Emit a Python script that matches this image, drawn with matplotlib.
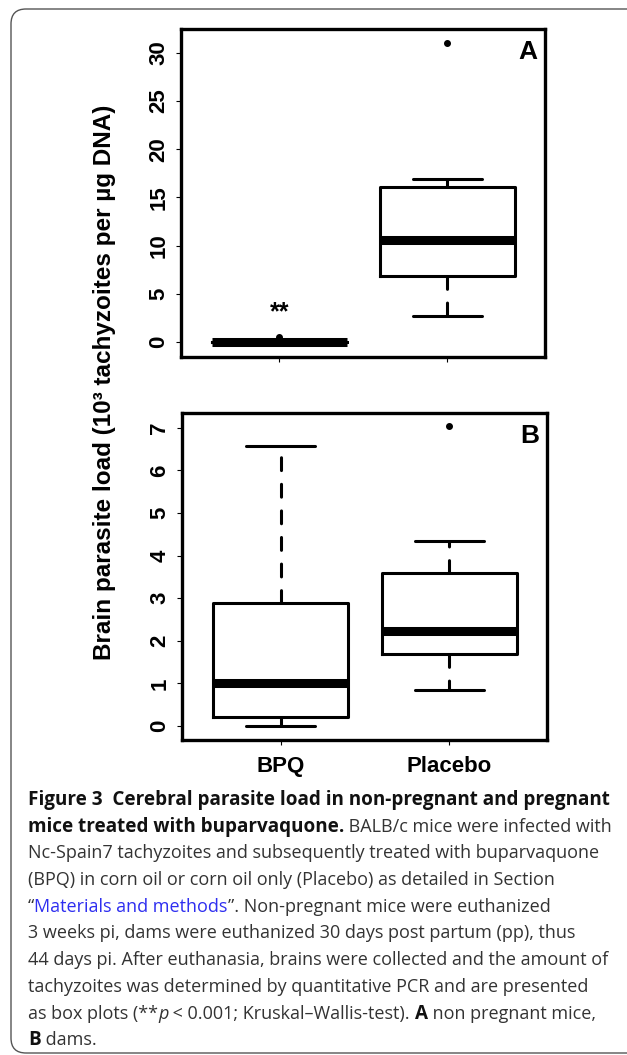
import matplotlib
matplotlib.use("Agg")
import matplotlib.pyplot as plt
from matplotlib.patches import FancyBboxPatch
from matplotlib.transforms import IdentityTransform

W, H = 627, 1055

groups = ["BPQ", "Placebo"]

# panel A: non pregnant mice (10^3 tachyzoites per ug DNA)
a_whislo = [0.0, 2.7]
a_q1 = [0.0, 6.8]
a_med = [0.0, 10.6]
a_q3 = [0.0, 16.1]
a_whishi = [0.0, 16.9]
a_fliers = [[0.5], [31.0]]

# panel B: dams
b_whislo = [0.0, 0.85]
b_q1 = [0.21, 1.68]
b_med = [1.0, 2.22]
b_q3 = [2.88, 3.6]
b_whishi = [6.57, 4.35]
b_fliers = [[], [7.05]]

a_ticks = [0, 5, 10, 15, 20, 25, 30]
b_ticks = [0, 1, 2, 3, 4, 5, 6, 7]

plt.rcParams['font.family'] = ['Liberation Sans', 'DejaVu Sans']

fig = plt.figure(figsize=(W / 100, H / 100), dpi=100)


def px_axes(l, t, r, b):
    return fig.add_axes([l / W, 1 - b / H, (r - l) / W, (b - t) / H])


def make_stats(lo, q1, med, q3, hi, fl):
    out = []
    for i in range(len(groups)):
        out.append(dict(whislo=lo[i], q1=q1[i], med=med[i], q3=q3[i],
                        whishi=hi[i], fliers=fl[i], label=groups[i]))
    return out


lw = 2.2
def draw_panel(ax, stats, ylim, ticks, letter, show_xlabels):
    ax.bxp(stats, positions=[1, 2], widths=0.8, capwidths=0.41,
           boxprops=dict(color='black', linewidth=lw),
           medianprops=dict(color='black', linewidth=6.5, solid_capstyle='butt'),
           whiskerprops=dict(color='black', linewidth=lw, linestyle=(0, (4.2, 4.5)),
                             dash_capstyle='round'),
           capprops=dict(color='black', linewidth=lw, solid_capstyle='round'),
           flierprops=dict(marker='o', markersize=4, markerfacecolor='black',
                           markeredgecolor='black'))
    ax.set_xlim(0.415, 2.58)
    ax.set_ylim(*ylim)
    ax.set_yticks(ticks)
    ax.set_yticklabels([str(t) for t in ticks], rotation=90, va='center',
                       fontsize=16, fontweight='bold')
    ax.set_xticks([1, 2])
    if show_xlabels:
        ax.set_xticklabels(groups, fontsize=16, fontweight='bold')
    else:
        ax.set_xticklabels(['', ''])
    ax.tick_params(axis='y', length=3.5, width=0.8, pad=5)
    ax.tick_params(axis='x', length=3.5, width=0.8, pad=8)
    for s in ax.spines.values():
        s.set_linewidth(2.4)
    ax.text(0.952, 0.93, letter, transform=ax.transAxes, ha='center', va='center',
            fontsize=19, fontweight='bold')


axA = px_axes(181, 29, 545, 357)
draw_panel(axA, make_stats(a_whislo, a_q1, a_med, a_q3, a_whishi, a_fliers),
           (-1.56, 32.46), a_ticks, 'A', False)
axA.text(1, 3.1, '**', ha='center', va='center', fontsize=18, fontweight='bold')

axB = px_axes(182, 413, 547, 740)
draw_panel(axB, make_stats(b_whislo, b_q1, b_med, b_q3, b_whishi, b_fliers),
           (-0.33, 7.35), b_ticks, 'B', True)

fig.text(105 / W, 1 - 382 / H,
         'Brain parasite load (10\u00b3 tachyzoites per \u00b5g DNA)',
         rotation=90, ha='center', va='center', fontsize=17.5, fontweight='bold')

# rounded frame around figure + caption (pixel coordinates)
frame = FancyBboxPatch((11, 2), 700, 1044,
                       boxstyle='round,pad=0,rounding_size=15',
                       transform=IdentityTransform(), facecolor='none',
                       edgecolor='#555555', linewidth=1.0)
fig.patches.append(frame)

# caption
cap_font = ['Open Sans', 'DejaVu Sans']
reg = dict(family=cap_font, fontsize=13.0, color='#333333')
bold = dict(family=cap_font, fontsize=13.6, color='#111111', fontweight='bold')
link = dict(family=cap_font, fontsize=13.0, color='#2e2ef0')
ital = dict(family=cap_font, fontsize=13.0, color='#333333', style='italic')

caption = [
    [("Figure 3  Cerebral parasite load in non-pregnant and pregnant", bold)],
    [("mice treated with buparvaquone.", bold), (" BALB/c mice were infected with", reg)],
    [("Nc-Spain7 tachyzoites and subsequently treated with buparvaquone", reg)],
    [("(BPQ) in corn oil or corn oil only (Placebo) as detailed in Section", reg)],
    [("\u201c", reg), ("Materials and methods", link), ("\u201d. Non-pregnant mice were euthanized", reg)],
    [("3 weeks pi, dams were euthanized 30 days post partum (pp), thus", reg)],
    [("44 days pi. After euthanasia, brains were collected and the amount of", reg)],
    [("tachyzoites was determined by quantitative PCR and are presented", reg)],
    [("as box plots (**", reg), ("p", ital), (" < 0.001; Kruskal\u2013Wallis-test). ", reg),
     ("A", bold), (" non pregnant mice,", reg)],
    [("B", bold), (" dams.", reg)],
]

renderer = fig.canvas.get_renderer()


def run_width(txt, props):
    t1 = fig.text(0, 0, '|' + txt + '|', **props)
    t2 = fig.text(0, 0, '||', **props)
    w = t1.get_window_extent(renderer).width - t2.get_window_extent(renderer).width
    t1.remove()
    t2.remove()
    return w


for i, line in enumerate(caption):
    x = 28
    y = 805 + 26.7 * i
    for txt, props in line:
        fig.text(x / W, 1 - y / H, txt, ha='left', va='baseline', **props)
        x += run_width(txt, props)

fig.savefig('out.png', dpi=100)
